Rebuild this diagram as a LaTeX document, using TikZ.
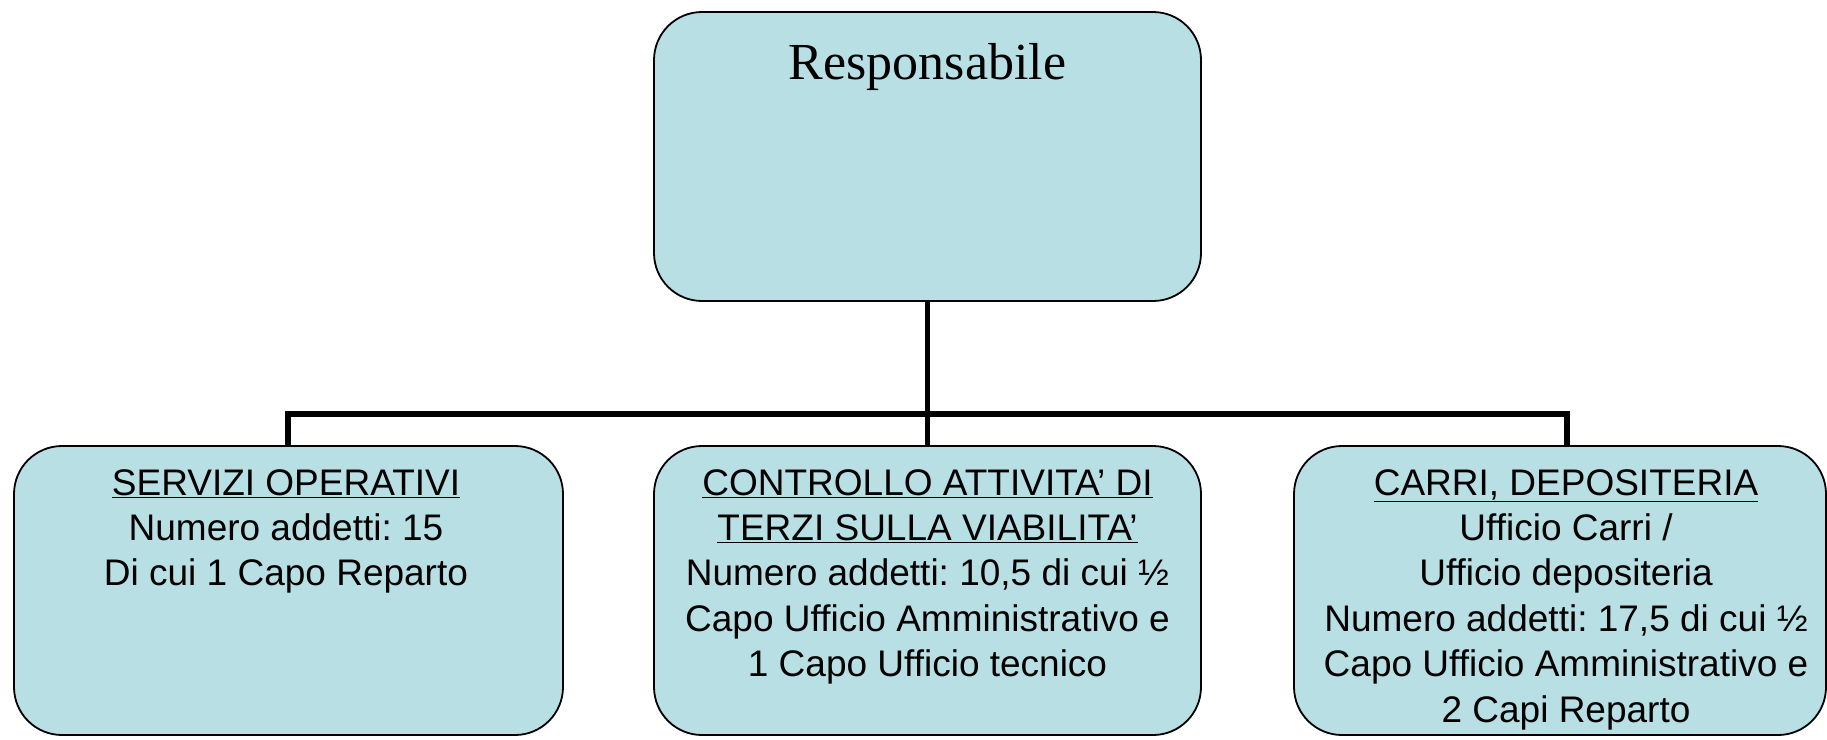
\documentclass[tikz,border=0pt]{standalone}
\usepackage{fontspec}
\setmainfont{Liberation Serif}
\newfontfamily\arialf{Liberation Sans}
\definecolor{boxfill}{HTML}{B8DFE4}
\frenchspacing
\begin{document}
\begin{tikzpicture}[x=1pt,y=-1pt,
  orgbox/.style={draw=black, line width=1.8pt, fill=boxfill, rounded corners=48pt, inner sep=0pt},
  conn/.style={line width=5.5pt, draw=black},
  subtext/.style={font=\arialf\fontsize{37}{45.4}\selectfont, align=center, anchor=north, inner sep=0pt}]
\useasboundingbox (0,0) rectangle (1827,739);
% boxes
\node[orgbox, minimum width=547pt, minimum height=289pt] (top) at (927.5,156.5) {};
\node[orgbox, minimum width=549pt, minimum height=289pt] (left) at (288.5,590.5) {};
\node[orgbox, minimum width=547pt, minimum height=289pt] (mid) at (927.5,590.5) {};
\node[orgbox, minimum width=532pt, minimum height=289pt] (right) at (1560,590.5) {};
% connectors
\coordinate (hub) at (927.5,414);
\coordinate (hl) at (288,414);
\coordinate (hr) at (1567,414);
\draw[conn] (top.south) -- (hub);
\draw[conn, line cap=rect] (hl) -- (hr);
\draw[conn] (hl) -- (hl |- left.north);
\draw[conn] (hub) -- (mid.north);
\draw[conn] (hr) -- (hr |- right.north);
% texts
\node[anchor=base, inner sep=0pt, font=\fontsize{52}{60}\selectfont] (ttop) at (927.5,79) {Responsabile};
\node[subtext] (tleft) at (286,469) {\underline{SERVIZI OPERATIVI}\\Numero addetti: 15\\Di cui 1 Capo Reparto};
\node[subtext] (tmid) at (927.5,469) {\underline{CONTROLLO ATTIVITA’ DI}\\\underline{TERZI SULLA VIABILITA’}\\Numero addetti: 10,5 di cui ½\\Capo Ufficio Amministrativo e\\1 Capo Ufficio tecnico};
\node[subtext] (tright) at (1566,469) {\underline{CARRI, DEPOSITERIA}\\Ufficio Carri /\\Ufficio depositeria\\Numero addetti: 17,5 di cui ½\\Capo Ufficio Amministrativo e\\2 Capi Reparto};
\end{tikzpicture}
\end{document}
